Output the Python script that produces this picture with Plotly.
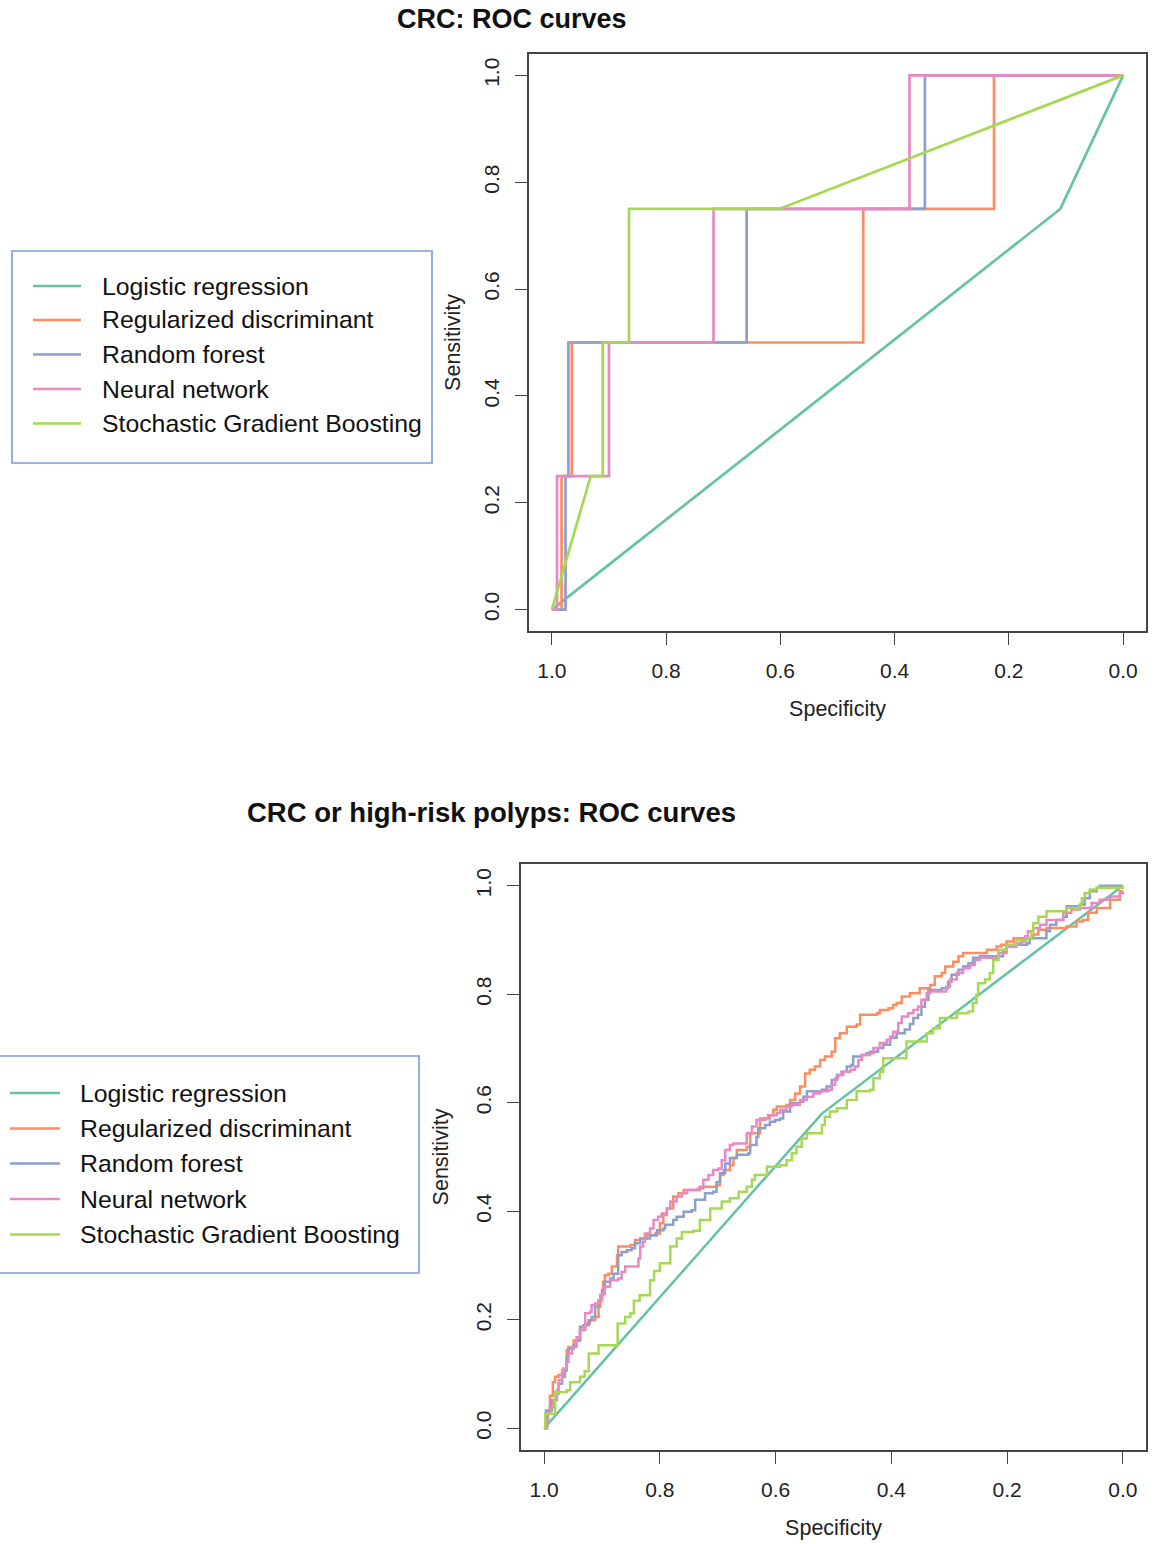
import plotly.graph_objects as go

W, H = 1155, 1544

# ---------------- data ----------------
names = ["Logistic regression", "Regularized discriminant", "Random forest",
         "Neural network", "Stochastic Gradient Boosting"]
colors = ["#66C2A5", "#FC8D62", "#8DA0CB", "#E78AC3", "#A6D854"]
tick_vals = [1.0, 0.8, 0.6, 0.4, 0.2, 0.0]
tick_text = ["1.0", "0.8", "0.6", "0.4", "0.2", "0.0"]
title_top = "CRC: ROC curves"
title_bot = "CRC or high-risk polyps: ROC curves"

# CRC (top panel)
lr_top_spec = [1.0, 0.11, 0.0]
lr_top_sens = [0.0, 0.75, 1.0]
rda_top_spec = [1.0, 0.983, 0.983, 0.965, 0.965, 0.455, 0.455, 0.226, 0.226, 0.0]
rda_top_sens = [0.0, 0.0, 0.25, 0.25, 0.5, 0.5, 0.75, 0.75, 1.0, 1.0]
rf_top_spec = [1.0, 0.976, 0.976, 0.971, 0.971, 0.659, 0.659, 0.347, 0.347, 0.0]
rf_top_sens = [0.0, 0.0, 0.25, 0.25, 0.5, 0.5, 0.75, 0.75, 1.0, 1.0]
nn_top_spec = [1.0, 0.991, 0.991, 0.900, 0.900, 0.717, 0.717, 0.374, 0.374, 0.0]
nn_top_sens = [0.0, 0.0, 0.25, 0.25, 0.5, 0.5, 0.75, 0.75, 1.0, 1.0]
sgb_top_spec = [1.0, 0.932, 0.911, 0.911, 0.865, 0.865, 0.602, 0.0]
sgb_top_sens = [0.0, 0.25, 0.25, 0.5, 0.5, 0.75, 0.75, 1.0]

# CRC or high-risk polyps (bottom panel)
lr_bot_spec = [1.0, 0.52, 0.0]
lr_bot_sens = [0.0, 0.58, 1.0]

rda_bot_spec = [1.0, 0.995, 0.99, 0.985, 0.981, 0.975, 0.969, 0.961, 0.958, 0.949, 0.938, 0.929,
                0.921, 0.912, 0.906, 0.903, 0.898, 0.895, 0.889, 0.883, 0.874, 0.872, 0.851, 0.843,
                0.834, 0.823, 0.808, 0.800, 0.794, 0.788, 0.777, 0.768, 0.759, 0.731, 0.702, 0.696,
                0.690, 0.679, 0.673, 0.667, 0.650, 0.644, 0.627, 0.613, 0.604, 0.598, 0.581, 0.575,
                0.566, 0.558, 0.549, 0.541, 0.532, 0.523, 0.515, 0.503, 0.497, 0.489, 0.477, 0.460,
                0.454, 0.425, 0.420, 0.405, 0.397, 0.391, 0.382, 0.368, 0.351, 0.333, 0.325, 0.313,
                0.307, 0.293, 0.284, 0.276, 0.247, 0.235, 0.218, 0.210, 0.201, 0.189, 0.164, 0.155,
                0.146, 0.132, 0.097, 0.080, 0.069, 0.060, 0.045, 0.022, 0.005, 0.0]
rda_bot_sens = [0.0, 0.03, 0.06, 0.085, 0.095, 0.098, 0.107, 0.144, 0.150, 0.162, 0.181, 0.193,
                0.199, 0.205, 0.224, 0.245, 0.270, 0.282, 0.285, 0.298, 0.319, 0.335, 0.338, 0.347,
                0.350, 0.356, 0.359, 0.378, 0.393, 0.405, 0.427, 0.433, 0.439, 0.445, 0.448, 0.467,
                0.476, 0.485, 0.498, 0.513, 0.519, 0.544, 0.571, 0.577, 0.587, 0.593, 0.596, 0.605,
                0.617, 0.630, 0.654, 0.661, 0.667, 0.679, 0.685, 0.694, 0.719, 0.728, 0.740, 0.744,
                0.762, 0.765, 0.771, 0.774, 0.780, 0.784, 0.796, 0.802, 0.811, 0.817, 0.833, 0.839,
                0.851, 0.860, 0.870, 0.876, 0.876, 0.882, 0.888, 0.891, 0.897, 0.903, 0.903, 0.910,
                0.919, 0.922, 0.925, 0.934, 0.937, 0.950, 0.959, 0.974, 0.990, 0.99]

rf_bot_spec = [1.0, 0.997, 0.990, 0.987, 0.978, 0.975, 0.969, 0.964, 0.961, 0.958, 0.949, 0.944,
               0.938, 0.932, 0.923, 0.918, 0.912, 0.906, 0.900, 0.895, 0.886, 0.880, 0.872, 0.866,
               0.857, 0.849, 0.843, 0.834, 0.826, 0.817, 0.805, 0.794, 0.791, 0.777, 0.771, 0.759,
               0.745, 0.739, 0.722, 0.708, 0.702, 0.696, 0.687, 0.679, 0.667, 0.647, 0.644, 0.633,
               0.630, 0.618, 0.610, 0.601, 0.592, 0.587, 0.575, 0.558, 0.552, 0.546, 0.520, 0.512,
               0.503, 0.494, 0.486, 0.477, 0.469, 0.466, 0.451, 0.443, 0.437, 0.423, 0.414, 0.402,
               0.391, 0.377, 0.368, 0.362, 0.354, 0.348, 0.342, 0.336, 0.313, 0.302, 0.296, 0.284,
               0.276, 0.267, 0.259, 0.247, 0.212, 0.207, 0.201, 0.184, 0.166, 0.161, 0.138, 0.132,
               0.126, 0.115, 0.103, 0.097, 0.074, 0.066, 0.057, 0.045, 0.040, 0.0]
rf_bot_sens = [0.0, 0.033, 0.033, 0.052, 0.064, 0.082, 0.095, 0.107, 0.132, 0.147, 0.153, 0.162,
               0.187, 0.190, 0.199, 0.205, 0.224, 0.236, 0.255, 0.270, 0.276, 0.285, 0.319, 0.325,
               0.328, 0.332, 0.341, 0.350, 0.350, 0.356, 0.365, 0.368, 0.375, 0.384, 0.390, 0.399,
               0.402, 0.421, 0.433, 0.436, 0.454, 0.470, 0.488, 0.498, 0.504, 0.507, 0.522, 0.537,
               0.553, 0.559, 0.565, 0.568, 0.571, 0.584, 0.599, 0.602, 0.611, 0.621, 0.624, 0.630,
               0.642, 0.651, 0.657, 0.667, 0.670, 0.685, 0.688, 0.691, 0.694, 0.701, 0.707, 0.720,
               0.728, 0.735, 0.745, 0.756, 0.762, 0.777, 0.790, 0.808, 0.811, 0.823, 0.836, 0.845,
               0.851, 0.857, 0.867, 0.870, 0.870, 0.880, 0.888, 0.891, 0.894, 0.903, 0.903, 0.916,
               0.928, 0.937, 0.943, 0.962, 0.965, 0.977, 0.990, 0.996, 1.0, 1.0]

nn_bot_spec = [1.0, 0.995, 0.993, 0.990, 0.984, 0.978, 0.975, 0.969, 0.967, 0.961, 0.958, 0.952,
               0.944, 0.938, 0.932, 0.929, 0.921, 0.918, 0.912, 0.906, 0.900, 0.895, 0.886, 0.872,
               0.866, 0.860, 0.843, 0.837, 0.834, 0.829, 0.826, 0.817, 0.811, 0.803, 0.797, 0.788,
               0.782, 0.771, 0.762, 0.753, 0.734, 0.725, 0.716, 0.708, 0.699, 0.693, 0.687, 0.679,
               0.673, 0.656, 0.650, 0.641, 0.633, 0.618, 0.610, 0.598, 0.592, 0.581, 0.572, 0.558,
               0.546, 0.535, 0.523, 0.509, 0.503, 0.497, 0.492, 0.483, 0.471, 0.463, 0.457, 0.451,
               0.437, 0.431, 0.420, 0.408, 0.402, 0.397, 0.388, 0.382, 0.371, 0.362, 0.354, 0.348,
               0.339, 0.333, 0.313, 0.305, 0.299, 0.287, 0.276, 0.264, 0.256, 0.247, 0.221, 0.215,
               0.201, 0.187, 0.175, 0.169, 0.164, 0.155, 0.143, 0.132, 0.115, 0.103, 0.089, 0.074,
               0.054, 0.040, 0.022, 0.005, 0.0]
nn_bot_sens = [0.0, 0.015, 0.027, 0.039, 0.052, 0.070, 0.089, 0.098, 0.110, 0.122, 0.138, 0.150,
               0.168, 0.181, 0.187, 0.212, 0.215, 0.227, 0.230, 0.236, 0.248, 0.261, 0.273, 0.276,
               0.288, 0.298, 0.298, 0.313, 0.335, 0.344, 0.359, 0.368, 0.384, 0.390, 0.396, 0.405,
               0.418, 0.427, 0.433, 0.439, 0.442, 0.458, 0.467, 0.476, 0.479, 0.494, 0.513, 0.522,
               0.525, 0.525, 0.544, 0.556, 0.568, 0.571, 0.577, 0.581, 0.587, 0.593, 0.596, 0.605,
               0.611, 0.617, 0.621, 0.624, 0.633, 0.645, 0.651, 0.657, 0.661, 0.667, 0.679, 0.688,
               0.691, 0.701, 0.710, 0.716, 0.722, 0.731, 0.747, 0.759, 0.765, 0.771, 0.777, 0.790,
               0.802, 0.805, 0.805, 0.814, 0.827, 0.839, 0.848, 0.854, 0.863, 0.867, 0.867, 0.876,
               0.888, 0.894, 0.897, 0.907, 0.916, 0.922, 0.928, 0.937, 0.937, 0.950, 0.956, 0.959,
               0.968, 0.974, 0.980, 0.986, 0.99]

sgb_bot_spec = [1.0, 0.998, 0.981, 0.961, 0.955, 0.938, 0.930, 0.923, 0.906, 0.877, 0.873, 0.860,
                0.851, 0.845, 0.835, 0.817, 0.810, 0.800, 0.782, 0.771, 0.762, 0.742, 0.731, 0.713,
                0.693, 0.679, 0.664, 0.650, 0.641, 0.636, 0.615, 0.592, 0.581, 0.572, 0.564, 0.555,
                0.546, 0.526, 0.520, 0.515, 0.506, 0.494, 0.477, 0.460, 0.437, 0.431, 0.420, 0.414,
                0.391, 0.374, 0.351, 0.339, 0.328, 0.316, 0.305, 0.287, 0.267, 0.259, 0.253, 0.250,
                0.238, 0.230, 0.224, 0.215, 0.201, 0.184, 0.166, 0.158, 0.155, 0.146, 0.132, 0.103,
                0.097, 0.074, 0.071, 0.066, 0.057, 0.045, 0.0]
sgb_bot_sens = [0.0, 0.027, 0.067, 0.070, 0.085, 0.095, 0.105, 0.138, 0.153, 0.153, 0.193, 0.205,
                0.212, 0.235, 0.245, 0.273, 0.290, 0.304, 0.335, 0.350, 0.362, 0.364, 0.384, 0.405,
                0.418, 0.424, 0.436, 0.445, 0.458, 0.467, 0.482, 0.485, 0.494, 0.507, 0.519, 0.534,
                0.544, 0.544, 0.559, 0.574, 0.584, 0.590, 0.605, 0.621, 0.624, 0.645, 0.657, 0.682,
                0.682, 0.713, 0.713, 0.728, 0.737, 0.756, 0.756, 0.765, 0.768, 0.784, 0.799, 0.820,
                0.827, 0.839, 0.863, 0.882, 0.891, 0.900, 0.903, 0.916, 0.931, 0.943, 0.953, 0.953,
                0.959, 0.965, 0.977, 0.986, 0.993, 0.996, 1.0]

top_series = [(lr_top_spec, lr_top_sens), (rda_top_spec, rda_top_sens), (rf_top_spec, rf_top_sens),
              (nn_top_spec, nn_top_sens), (sgb_top_spec, sgb_top_sens)]
bot_series = [(lr_bot_spec, lr_bot_sens), (rda_bot_spec, rda_bot_sens), (rf_bot_spec, rf_bot_sens),
              (nn_bot_spec, nn_bot_sens), (sgb_bot_spec, sgb_bot_sens)]

# ---------------- figure ----------------
def px(x):
    return x / W

def py(y):
    return 1 - y / H

fig = go.Figure()
for i, (sx, sy) in enumerate(top_series):
    fig.add_trace(go.Scatter(x=sx, y=sy, mode="lines", name=names[i], showlegend=False,
                             line=dict(color=colors[i], width=2.7), xaxis="x", yaxis="y"))
for i, (sx, sy) in enumerate(bot_series):
    shape = "linear" if i == 0 else "hv"
    fig.add_trace(go.Scatter(x=sx, y=sy, mode="lines", name=names[i], showlegend=False,
                             line=dict(color=colors[i], width=2.5, shape=shape),
                             xaxis="x2", yaxis="y2"))

FONT = "Liberation Sans, Arial, Helvetica, sans-serif"

def xax(domain, anchor):
    return dict(domain=domain, anchor=anchor, range=[1.04, -0.04], tickvals=tick_vals,
                ticktext=tick_text, ticks="outside", ticklen=12, tickwidth=1.3, tickcolor="#444",
                showline=True, linecolor="#444", linewidth=1.6, mirror=True, showgrid=False,
                zeroline=False, tickfont=dict(size=21, color="#222", family=FONT),
                ticklabelstandoff=8,
                title=dict(text="Specificity", font=dict(size=21.5, color="#222", family=FONT),
                           standoff=20))

def yax(domain, anchor, so):
    return dict(domain=domain, anchor=anchor, range=[-0.04, 1.04], tickvals=tick_vals,
                ticktext=tick_text, ticks="outside", ticklen=12, tickwidth=1.3, tickcolor="#444",
                showline=True, linecolor="#444", linewidth=1.6, mirror=True, showgrid=False,
                zeroline=False, tickangle=-90, tickfont=dict(size=21, color="#222", family=FONT),
                ticklabelstandoff=8,
                title=dict(text="Sensitivity", font=dict(size=21.5, color="#222", family=FONT),
                           standoff=so))

annotations = [
    dict(text="<b>%s</b>" % title_top, x=px(512), y=py(19), xref="paper", yref="paper",
         showarrow=False, xanchor="center", yanchor="middle", borderpad=0,
         font=dict(size=27, color="#111", family=FONT)),
    dict(text="<b>%s</b>" % title_bot, x=px(491), y=py(812), xref="paper", yref="paper",
         showarrow=False, xanchor="center", yanchor="middle", borderpad=0,
         font=dict(size=27.5, color="#111", family=FONT)),
]
shapes = []

def add_legend(box, line_x, text_x, rows):
    x0, y0, x1, y1 = box
    shapes.append(dict(type="rect", xref="paper", yref="paper", x0=px(x0), x1=px(x1),
                       y0=py(y0), y1=py(y1), line=dict(color="#7B9BE0", width=1.6)))
    for i, ry in enumerate(rows):
        shapes.append(dict(type="line", xref="paper", yref="paper", x0=px(line_x[0]),
                           x1=px(line_x[1]), y0=py(ry), y1=py(ry),
                           line=dict(color=colors[i], width=2.6)))
        annotations.append(dict(text=names[i], x=px(text_x), y=py(ry), xref="paper",
                                yref="paper", showarrow=False, xanchor="left",
                                yanchor="middle", font=dict(size=24.8, color="#111", family=FONT)))

add_legend((12, 251, 432, 463), (33, 81), 100, [286, 320, 354.5, 389, 423.5])
add_legend((-3, 1056, 419, 1273), (10, 60), 78, [1093, 1128.5, 1163.5, 1199, 1234.5])

fig.update_layout(
    width=W, height=H, margin=dict(l=0, r=0, t=0, b=0),
    paper_bgcolor="white", plot_bgcolor="white",
    xaxis=xax([px(529), px(1146)], "y"),
    yaxis=yax([py(631), py(54)], "x", 13),
    xaxis2=xax([px(521), px(1146)], "y2"),
    yaxis2=yax([py(1450), py(864)], "x2", 17),
    annotations=annotations, shapes=shapes,
    font=dict(family=FONT),
)

fig.write_html("out.html", config={"displayModeBar": False},
               post_script="document.body.style.margin='0';document.body.style.padding='0';")
